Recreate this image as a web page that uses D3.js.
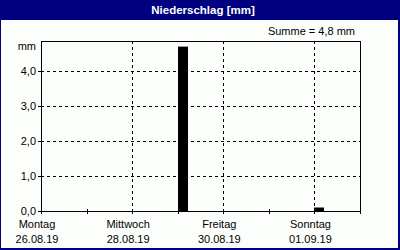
<!DOCTYPE html>
<html>
<head>
<meta charset="utf-8">
<script src="https://cdn.jsdelivr.net/npm/d3@7"></script>
<style>
  body { margin: 0; background: #fff; }
  svg { display: block; font-family: 'Liberation Sans', Arial, sans-serif; }
</style>
</head>
<body>
<svg id="chart" width="400" height="250"></svg>
<script>
'use strict';

// 6-hour intervals, 26.08.19 00:00 .. 02.09.19 00:00
var start = new Date(2019, 7, 26)
var stepHours = 6
var rain = [0, 0, 0, 0, 0, 0, 0, 0, 0, 0, 0, 0,
    4.7, 0, 0, 0, 0, 0, 0, 0, 0, 0, 0, 0,
    0.1, 0, 0, 0]
var yTicks = [0, 1, 2, 3, 4]
var yMax = 4.86
var dayNames = ['Sonntag', 'Montag', 'Dienstag', 'Mittwoch', 'Donnerstag', 'Freitag', 'Samstag']
var title = 'Niederschlag [mm]'
var sumText = 'Summe = 4,8 mm'
var unit = 'mm'

var navy = '#000080'
var svg = d3.select('#chart')

var pLeft = 41, pRight = 360, pTop = 41, pBottom = 211
var end = d3.timeDay.offset(start, 7)

var x = d3.scaleTime().domain([start, end]).range([pLeft, pRight])
var y = d3.scaleLinear().domain([0, yMax]).range([pBottom, pTop])

// frame
svg.append('rect').attr('x', 0).attr('y', 0).attr('width', 400).attr('height', 250).attr('fill', navy)
svg.append('rect').attr('x', 1).attr('y', 20).attr('width', 397).attr('height', 228).attr('fill', '#fcfefc')

svg.append('text')
    .attr('x', 203).attr('y', 14)
    .attr('text-anchor', 'middle')
    .attr('fill', '#fff')
    .attr('font-size', 11.5)
    .attr('font-weight', 'bold')
    .text(title)

svg.append('text')
    .attr('x', 355).attr('y', 35)
    .attr('text-anchor', 'end')
    .attr('font-size', 11)
    .text(sumText)

var fmt = function(v) { return d3.format('.1f')(v).replace('.', ',') }

// horizontal grid
svg.append('g').selectAll('line')
    .data(yTicks.filter(function(d) { return d > 0 }))
    .enter().append('line')
    .attr('x1', pLeft).attr('x2', pRight)
    .attr('y1', function(d) { return Math.round(y(d)) + 0.5 })
    .attr('y2', function(d) { return Math.round(y(d)) + 0.5 })
    .attr('stroke', '#000')
    .attr('stroke-dasharray', '3,3')

var days = d3.timeDay.range(start, d3.timeDay.offset(end, 1))
var labelDays = days.filter(function(d, i) { return i % 2 === 0 && i < 7 })

// vertical grid
svg.append('g').selectAll('line')
    .data(labelDays.slice(1))
    .enter().append('line')
    .attr('x1', function(d) { return Math.round(x(d)) + 0.5 })
    .attr('x2', function(d) { return Math.round(x(d)) + 0.5 })
    .attr('y1', pTop).attr('y2', pBottom)
    .attr('stroke', '#000')
    .attr('stroke-dasharray', '3,3')

// bars
var bw = x(d3.timeHour.offset(start, stepHours)) - x(start)
svg.append('g').selectAll('rect')
    .data(rain)
    .enter().append('rect')
    .attr('x', function(d, i) { return Math.round(x(d3.timeHour.offset(start, i * stepHours))) })
    .attr('y', function(d) { return y(d) })
    .attr('width', Math.round(bw) - 1)
    .attr('height', function(d) { return pBottom - y(d) })
    .attr('fill', '#000')

// plot border
svg.append('rect')
    .attr('x', pLeft + 0.5).attr('y', pTop + 0.5)
    .attr('width', pRight - pLeft).attr('height', pBottom - pTop)
    .attr('fill', 'none')
    .attr('stroke', '#000')

// y axis labels and ticks
var yg = svg.append('g')
yg.selectAll('line')
    .data(yTicks)
    .enter().append('line')
    .attr('x1', pLeft - 3).attr('x2', pLeft)
    .attr('y1', function(d) { return Math.round(y(d)) + 0.5 })
    .attr('y2', function(d) { return Math.round(y(d)) + 0.5 })
    .attr('stroke', '#000')
yg.selectAll('text')
    .data(yTicks)
    .enter().append('text')
    .attr('x', 36)
    .attr('y', function(d) { return y(d) + 4 })
    .attr('text-anchor', 'end')
    .attr('font-size', 11)
    .text(fmt)
yg.append('text')
    .attr('x', 36).attr('y', 50)
    .attr('text-anchor', 'end')
    .attr('font-size', 11)
    .text(unit)

// x ticks
svg.append('g').selectAll('line')
    .data(days)
    .enter().append('line')
    .attr('x1', function(d) { return Math.round(x(d)) + 0.5 })
    .attr('x2', function(d) { return Math.round(x(d)) + 0.5 })
    .attr('y1', pBottom - 2).attr('y2', pBottom + 3)
    .attr('stroke', '#000')

var dateFmt = d3.timeFormat('%d.%m.%y')
var xl = svg.append('g').selectAll('g')
    .data(labelDays)
    .enter().append('g')
    .attr('transform', function(d) { return 'translate(' + (x(d) - 4) + ',0)' })
xl.append('text')
    .attr('y', 228)
    .attr('text-anchor', 'middle')
    .attr('font-size', 11)
    .text(function(d) { return dayNames[d.getDay()] })
xl.append('text')
    .attr('y', 243)
    .attr('text-anchor', 'middle')
    .attr('font-size', 11)
    .text(dateFmt)
</script>
</body>
</html>
